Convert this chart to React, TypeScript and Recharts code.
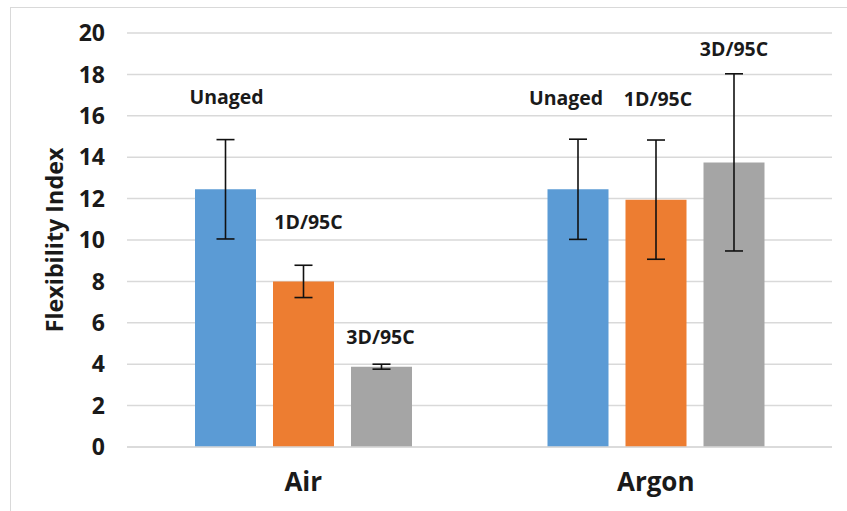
import React from 'react';
import { BarChart, Bar, XAxis, YAxis, CartesianGrid, ErrorBar, LabelList } from 'recharts';

const categories = ['Air', 'Argon'];
const seriesNames = ['Unaged', '1D/95C', '3D/95C'];
const unaged = [12.45, 12.45];
const oneDay = [8.0, 11.95];
const threeDay = [3.88, 13.75];
const unagedErr = [2.4, 2.42];
const oneDayErr = [0.78, 2.88];
const threeDayErr = [0.12, 4.28];
// label baselines, in y-axis units, per series per category
const unagedLabelAt = [16.55, 16.5];
const oneDayLabelAt = [10.55, 16.45];
const threeDayLabelAt = [5.0, 18.9];
const yTicks = [0, 2, 4, 6, 8, 10, 12, 14, 16, 18, 20];

const COLORS = ['#5B9BD5', '#ED7D31', '#A5A5A5'];
const LABEL_DX = [[1, 5, -1], [-12, 2, 0]];
const FONT = '"Open Sans", "Noto Sans", sans-serif';

const data = categories.map((c, i) => ({
  name: c,
  unaged: unaged[i],
  oneDay: oneDay[i],
  threeDay: threeDay[i],
  unagedErr: unagedErr[i],
  oneDayErr: oneDayErr[i],
  threeDayErr: threeDayErr[i],
}));

const labelAts = [unagedLabelAt, oneDayLabelAt, threeDayLabelAt];
const values = [unaged, oneDay, threeDay];

function makeLabel(si: number) {
  return (props: any) => {
    const { x, y, width, height, index } = props;
    const v = values[si][index];
    const base = Number(y) + Number(height);
    const ppu = Number(height) / v;
    const ly = base - labelAts[si][index] * ppu;
    const cx = Number(x) + Number(width) / 2 + LABEL_DX[index][si];
    return (
      <text x={cx} y={ly} textAnchor="middle" fontFamily={FONT} fontWeight="bold" fontSize={19.5} fill="#1a1a1a">
        {seriesNames[si]}
      </text>
    );
  };
}

const YLabel = (props: any) => {
  const vb = props.viewBox || { y: 33, height: 414 };
  const cy = vb.y + vb.height / 2;
  return (
    <text transform={`translate(63, ${cy}) rotate(-90)`} x={0} y={0} textAnchor="middle" fontFamily={FONT} fontWeight="bold" fontSize={23.3} fill="#1a1a1a">
      Flexibility Index
    </text>
  );
};

export default function App() {
  return (
    <div style={{ position: 'absolute', left: 0, top: 0, width: 847, height: 511, background: '#fff' }}>
      <div style={{ position: 'absolute', left: 10, top: 7, width: 837, height: 504, borderLeft: '1.5px solid #D9D9D9', borderTop: '1.5px solid #D9D9D9' }} />
      <div style={{ position: 'absolute', left: 0, top: 0 }}>
        <BarChart width={847} height={511} data={data} margin={{ top: 33, right: 15, bottom: 0, left: 0 }} barSize={61} barGap={17}>
          <CartesianGrid vertical={false} stroke="#D9D9D9" strokeWidth={1.5} />
          <XAxis dataKey="name" height={64} axisLine={{ stroke: '#D9D9D9', strokeWidth: 1.5 }} tickLine={false} tickSize={0} tickMargin={26}
            tick={{ fontFamily: FONT, fontWeight: 'bold', fontSize: 26, fill: '#1a1a1a' }} />
          <YAxis width={127} domain={[0, 20]} ticks={yTicks} axisLine={false} tickLine={false} tickSize={0} tickMargin={22}
            tick={{ fontFamily: FONT, fontWeight: 'bold', fontSize: 23, fill: '#1a1a1a' }} label={<YLabel />} />
          <Bar dataKey="unaged" fill={COLORS[0]} isAnimationActive={false}>
            <ErrorBar dataKey="unagedErr" stroke="#111" strokeWidth={1.6} width={9} />
            <LabelList dataKey="unaged" content={makeLabel(0)} />
          </Bar>
          <Bar dataKey="oneDay" fill={COLORS[1]} isAnimationActive={false}>
            <ErrorBar dataKey="oneDayErr" stroke="#111" strokeWidth={1.6} width={9} />
            <LabelList dataKey="oneDay" content={makeLabel(1)} />
          </Bar>
          <Bar dataKey="threeDay" fill={COLORS[2]} isAnimationActive={false}>
            <ErrorBar dataKey="threeDayErr" stroke="#111" strokeWidth={1.6} width={9} />
            <LabelList dataKey="threeDay" content={makeLabel(2)} />
          </Bar>
        </BarChart>
      </div>
    </div>
  );
}
